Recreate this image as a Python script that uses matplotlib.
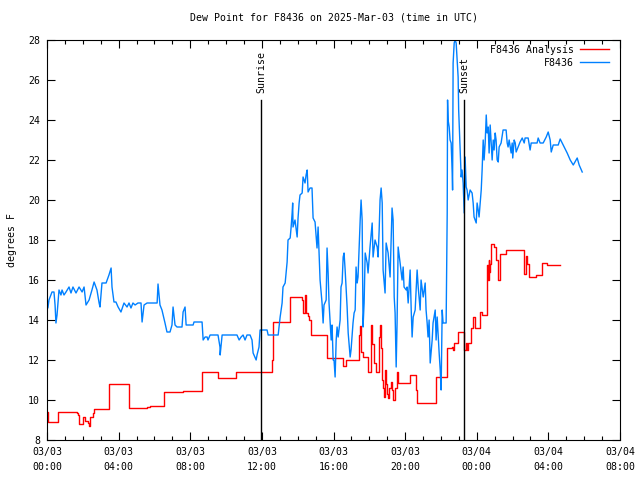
import matplotlib
matplotlib.use("Agg")
import matplotlib.pyplot as plt
from matplotlib.ticker import MultipleLocator, FixedLocator
import numpy as np

# ---------------- data ----------------
# hours since 2025-03-03 00:00 UTC
obs_hours = [0.00, 0.05, 0.11, 0.28, 0.39, 0.45, 0.50, 0.56, 0.67, 0.78, 0.84, 0.95, 1.06, 1.23, 1.34, 1.45,
             1.62, 1.79, 1.96, 2.07, 2.18, 2.35, 2.51, 2.63, 2.79, 2.91, 2.96, 3.07, 3.30, 3.46, 3.58, 3.63,
             3.74, 3.85, 3.97, 4.13, 4.30, 4.47, 4.58, 4.69, 4.80, 4.92, 5.08, 5.25, 5.31, 5.42, 5.59, 5.98,
             6.15, 6.20, 6.31, 6.42, 6.59, 6.70, 6.87, 6.98, 7.04, 7.15, 7.26, 7.54, 7.60, 7.71, 7.77, 8.16,
             8.21, 8.66, 8.72, 8.83, 8.94, 8.99, 9.11, 9.55, 9.66, 9.67, 9.78, 10.61, 10.73, 10.84, 10.95, 11.06,
             11.17, 11.34, 11.45, 11.51, 11.68, 11.73, 11.84, 11.90, 12.29, 12.35, 12.91, 13.02, 13.13, 13.18,
             13.30, 13.41, 13.46, 13.58, 13.63, 13.69, 13.72, 13.74, 13.85, 13.97, 14.02, 14.08, 14.13, 14.25,
             14.30, 14.41, 14.47, 14.53, 14.58, 14.69, 14.80, 14.86, 14.97, 15.08, 15.14, 15.25, 15.36, 15.42,
             15.47, 15.59, 15.64, 15.70, 15.75, 15.87, 15.92, 15.98, 16.03, 16.09, 16.15, 16.20, 16.26, 16.37,
             16.42, 16.48, 16.54, 16.59, 16.65, 16.76, 16.82, 16.93, 16.98, 17.09, 17.15, 17.21, 17.26, 17.32,
             17.37, 17.49, 17.54, 17.60, 17.65, 17.71, 17.77, 17.88, 17.93, 18.04, 18.16, 18.21, 18.32, 18.44,
             18.49, 18.55, 18.60, 18.66, 18.72, 18.77, 18.88, 18.94, 19.05, 19.16, 19.27, 19.33, 19.39, 19.44,
             19.50, 19.55, 19.61, 19.72, 19.83, 19.89, 19.94, 20.06, 20.11, 20.17, 20.28, 20.34, 20.39, 20.45,
             20.56, 20.67, 20.73, 20.84, 20.89, 21.01, 21.12, 21.17, 21.23, 21.28, 21.34, 21.40, 21.51, 21.56,
             21.68, 21.73, 21.79, 21.90, 21.96, 22.01, 22.07, 22.12, 22.23, 22.29, 22.35, 22.37, 22.40, 22.46,
             22.51, 22.57, 22.63, 22.65, 22.68, 22.74, 22.79, 22.85, 22.96, 22.99, 23.07, 23.13, 23.18, 23.24,
             23.30, 23.35, 23.41, 23.46, 23.52, 23.63, 23.74, 23.80, 23.85, 23.97, 24.02, 24.08, 24.13, 24.19,
             24.25, 24.30, 24.36, 24.41, 24.47, 24.53, 24.58, 24.64, 24.69, 24.75, 24.86, 24.92, 24.97, 25.03,
             25.08, 25.14, 25.20, 25.25, 25.36, 25.47, 25.64, 25.70, 25.75, 25.81, 25.92, 25.98, 26.01, 26.09,
             26.15, 26.20, 26.31, 26.42, 26.54, 26.65, 26.70, 26.87, 26.98, 27.04, 27.37, 27.43, 27.54, 27.71,
             27.88, 27.99, 28.10, 28.16, 28.27, 28.55, 28.66, 28.83, 29.05, 29.22, 29.39, 29.61, 29.72, 29.89]
obs_dewpt = [15.2, 14.6, 15.0, 15.4, 15.4, 14.75, 13.85, 14.25, 15.5, 15.25, 15.5, 15.25, 15.4, 15.65, 15.35, 15.65,
             15.35, 15.65, 15.4, 15.65, 14.75, 15.0, 15.5, 15.9, 15.5, 14.85, 14.65, 15.85, 15.85, 16.25, 16.6, 15.65,
             14.9, 14.9, 14.65, 14.4, 14.85, 14.65, 14.85, 14.6, 14.85, 14.75, 14.85, 14.85, 13.9, 14.75, 14.85, 14.85,
             14.85, 15.8, 14.75, 14.5, 13.85, 13.4, 13.4, 13.75, 14.65, 13.75, 13.65, 13.65, 14.4, 14.65, 13.75, 13.75,
             13.9, 13.9, 13.0, 13.15, 13.15, 13.0, 13.25, 13.25, 12.65, 12.25, 13.25, 13.25, 13.0, 13.15, 13.25, 13.0,
             13.25, 13.25, 13.0, 12.35, 12.0, 12.25, 12.65, 13.5, 13.5, 13.25, 13.25, 14.15, 14.85, 15.65,
             15.85, 16.9, 18.0, 18.1, 18.6, 19.35, 19.85, 18.65, 19.0, 18.15, 19.1, 19.85, 20.25, 20.35,
             21.15, 20.85, 21.25, 21.5, 20.4, 20.6, 20.6, 19.1, 18.9, 17.6, 18.65, 16.0, 14.85, 13.85,
             14.75, 15.0, 17.6, 16.35, 14.85, 13.0, 13.75, 12.0, 12.0, 11.15, 13.0, 13.65, 13.15, 14.0,
             15.65, 15.85, 17.15, 17.35, 16.5, 14.65, 13.35, 12.15, 12.5, 13.85, 14.35, 14.5, 16.65, 15.85,
             16.15, 19.0, 20.0, 19.0, 13.65, 14.85, 17.35, 16.85, 16.35, 17.65, 18.85, 17.15, 18.0, 17.65,
             17.15, 18.5, 20.0, 20.6, 19.85, 16.5, 15.35, 17.85, 17.35, 16.15, 19.6, 19.0, 15.15, 14.35,
             11.65, 13.85, 17.65, 16.85, 16.0, 16.65, 15.65, 15.5, 15.65, 14.85, 16.5, 14.5, 13.15, 14.15,
             14.5, 16.5, 15.65, 14.5, 16.0, 15.15, 15.85, 14.5, 13.85, 13.15, 14.0, 11.85, 13.0, 13.85,
             14.5, 13.0, 14.15, 12.35, 11.5, 10.5, 14.5, 13.85, 13.85, 13.85, 19.35, 25.0, 24.0, 23.65,
             23.0, 22.85, 21.35, 20.5, 26.85, 27.85, 28.0, 27.85, 26.15, 24.5, 22.65, 21.15, 21.5, 20.85,
             19.35, 22.15, 20.65, 20.5, 20.0, 20.5, 20.35, 19.85, 19.15, 18.85, 19.85, 19.5, 19.15, 19.85,
             20.5, 21.5, 23.0, 22.0, 22.85, 24.25, 23.35, 23.65, 22.35, 23.75, 22.0, 23.0, 22.5, 23.35,
             23.0, 22.0, 21.9, 22.65, 22.85, 23.5, 23.5, 22.85, 22.65, 23.0, 22.35, 22.85, 22.1, 23.0,
             22.85, 22.4, 22.65, 22.9, 23.1, 22.85, 23.1, 23.1, 22.5, 22.85, 22.85, 23.1, 22.85, 22.85,
             23.15, 23.4, 23.0, 22.4, 22.75, 22.75, 23.05, 22.75, 22.35, 22.0, 21.75, 22.1, 21.75, 21.4]

ana_hours = [0.00, 0.03, 0.60, 1.65, 1.75, 1.80, 2.03, 2.15, 2.27, 2.35, 2.40, 2.55, 2.65, 3.48, 4.60, 5.60,
             5.75, 6.55, 7.60, 8.65, 9.55, 10.55, 12.55, 12.60, 13.55, 14.25, 14.32, 14.40, 14.48, 14.55, 14.65,
             14.75, 15.65, 16.55, 16.70, 17.40, 17.47, 17.52, 17.62, 17.90, 18.10, 18.17, 18.25, 18.35, 18.55,
             18.60, 18.66, 18.72, 18.77, 18.83, 18.88, 18.94, 18.99, 19.05, 19.10, 19.20, 19.25, 19.32, 19.45,
             19.55, 19.60, 20.30, 20.62, 20.67, 21.70, 22.35, 22.60, 22.68, 22.75, 22.97, 23.30, 23.40, 23.45,
             23.52, 23.70, 23.77, 23.92, 24.20, 24.30, 24.55, 24.60, 24.63, 24.66, 24.70, 24.74, 24.80, 24.97,
             25.10, 25.17, 25.30, 25.65, 26.65, 26.75, 26.82, 26.90, 27.30, 27.65, 27.90, 28.65]
ana_dewpt = [9.4, 8.9, 9.4, 9.35, 9.25, 8.8, 9.15, 8.95, 8.85, 8.7, 9.15, 9.35, 9.55, 10.8, 9.6, 9.65,
             9.7, 10.4, 10.45, 11.4, 11.1, 11.4, 12.0, 13.9, 15.15, 15.0, 14.35, 15.25, 14.35, 14.2, 14.0,
             13.25, 12.1, 11.7, 12.0, 13.25, 13.7, 12.4, 12.15, 11.4, 13.75, 12.8, 11.85, 11.4, 13.15,
             13.75, 12.6, 11.0, 10.6, 10.15, 11.5, 10.8, 10.3, 10.1, 10.6, 10.9, 10.5, 10.0, 10.6,
             11.4, 10.85, 11.25, 10.5, 9.85, 11.15, 12.6, 12.65, 12.5, 12.85, 13.4, 12.5, 12.85, 12.5,
             12.85, 13.6, 14.15, 13.6, 14.4, 14.25, 15.15, 16.75, 16.0, 17.0, 16.4, 16.8, 17.8, 17.65,
             17.0, 16.0, 17.3, 17.5, 16.3, 17.2, 16.8, 16.15, 16.25, 16.85, 16.75, 16.75]

sunrise_hour = 11.95
sunset_hour = 23.30
x_tick_hours = [0, 4, 8, 12, 16, 20, 24, 28, 32]
x_tick_labels = ["03/03\n00:00", "03/03\n04:00", "03/03\n08:00", "03/03\n12:00", "03/03\n16:00",
                 "03/03\n20:00", "03/04\n00:00", "03/04\n04:00", "03/04\n08:00"]
y_ticks = [8, 10, 12, 14, 16, 18, 20, 22, 24, 26, 28]
title = "Dew Point for F8436 on 2025-Mar-03 (time in UTC)"

# ---------------- plot ----------------
FONT = "DejaVu Sans Mono"
FS = 7.1
plt.rcParams['font.family'] = [FONT]

fig = plt.figure(figsize=(6.4, 4.8), dpi=100)
ax = fig.add_axes([47/640, 40/480, 573/640, 400/480])

ax.plot(ana_hours, ana_dewpt, color="#ff0000", lw=1.0, drawstyle="steps-post", label="F8436 Analysis")
ax.plot(obs_hours, obs_dewpt, color="#0080ff", lw=1.0, label="F8436")

ax.set_xlim(0, 32)
ax.set_ylim(8, 28)

for hr, name in [(sunrise_hour, "Sunrise"), (sunset_hour, "Sunset")]:
    ax.plot([hr, hr], [8, 25], color="black", lw=1.0)
    ax.text(hr, 25.35, name, rotation=90, ha="center", va="bottom", fontsize=FS, family=FONT)

ax.xaxis.set_major_locator(FixedLocator(x_tick_hours))
ax.xaxis.set_minor_locator(MultipleLocator(1))
ax.set_xticklabels(x_tick_labels)
ax.set_yticks(y_ticks)
ax.tick_params(axis="both", which="both", direction="in", top=True, right=True, labelsize=FS, width=0.8)
ax.tick_params(axis="both", which="major", length=6, pad=5)
ax.tick_params(axis="x", which="minor", length=3)
for lab in ax.get_xticklabels():
    lab.set_linespacing(1.6)
for sp in ax.spines.values():
    sp.set_linewidth(0.8)

ax.set_ylabel("degrees F", fontsize=FS, labelpad=8)
ax.set_title(title, fontsize=FS, pad=14)

leg = ax.legend(loc="upper right", frameon=False, markerfirst=False, fontsize=FS,
                handlelength=2.9, handletextpad=0.7, labelspacing=0.3,
                bbox_to_anchor=(0.9878, 0.9975), borderaxespad=0.0)

fig.savefig("out.png", dpi=100)
